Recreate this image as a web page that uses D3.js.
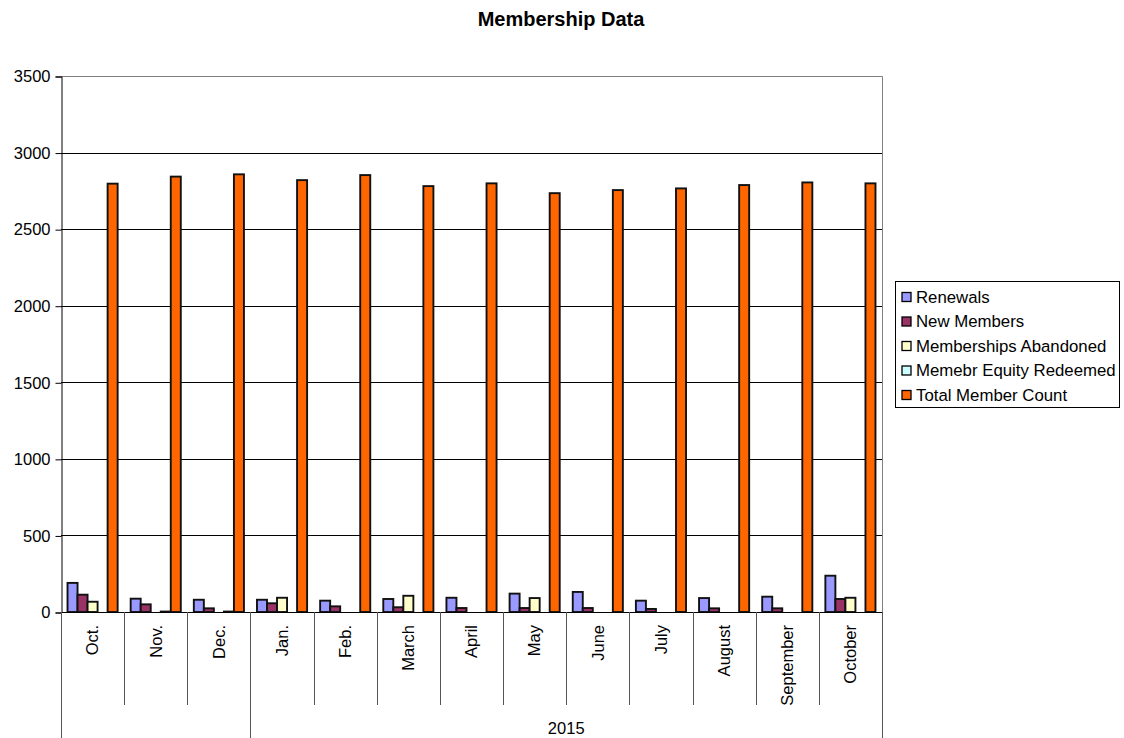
<!DOCTYPE html>
<html>
<head>
<meta charset="utf-8">
<script src="https://cdn.jsdelivr.net/npm/d3@7"></script>
<style>
  html, body { margin: 0; padding: 0; background: #fff; }
  svg { display: block; font-family: "Liberation Sans", Arial, sans-serif; }
</style>
</head>
<body>
<svg id="chart" width="1124" height="738"></svg>
<script>
// ---- data ----
const categories = ["Oct.", "Nov.", "Dec.", "Jan.", "Feb.", "March", "April", "May", "June", "July", "August", "September", "October"];
const groupLabels = ["", "2015"];
const groupSizes = [3, 10];
const seriesNames = ["Renewals", "New Members", "Memberships Abandoned", "Memebr Equity Redeemed", "Total Member Count"];
const renewals = [190, 87, 80, 80, 74, 85, 93, 120, 131, 74, 91, 100, 237];
const newMembers = [113, 50, 24, 57, 37, 31, 26, 26, 26, 20, 24, 24, 85];
const abandoned = [67, 0, 0, 93, 0, 106, 0, 91, 0, 0, 0, 0, 93];
const equityRedeemed = [0, 3, 3, 0, 0, 0, 0, 0, 0, 0, 0, 0, 0];
const totalCount = [2797, 2843, 2858, 2820, 2853, 2781, 2799, 2735, 2755, 2766, 2788, 2805, 2799];
const yTicks = [0, 500, 1000, 1500, 2000, 2500, 3000, 3500];
const colors = ["#9999FF", "#993366", "#FFFFCC", "#CCFFFF", "#FF6600"];

const seriesValues = [renewals, newMembers, abandoned, equityRedeemed, totalCount];

// ---- layout ----
const svg = d3.select("#chart");
const plot = { left: 61, right: 882, top: 76, bottom: 612 };

const x0 = d3.scaleBand().domain(categories).range([plot.left, plot.right]).padding(0);
const x1 = d3.scaleBand().domain(seriesNames).range([0, x0.bandwidth()]).paddingInner(0).paddingOuter(0.65);
const y = d3.scaleLinear().domain([0, 3500]).range([plot.bottom, plot.top]);

// title
svg.append("text")
  .attr("x", 561).attr("y", 26)
  .attr("text-anchor", "middle")
  .attr("font-size", 20).attr("font-weight", "bold")
  .text("Membership Data");

// gridlines
svg.append("g").selectAll("line")
  .data(yTicks.filter(d => d > 0 && d < 3500))
  .join("line")
  .attr("x1", plot.left).attr("x2", plot.right)
  .attr("y1", d => Math.round(y(d)) + 0.5).attr("y2", d => Math.round(y(d)) + 0.5)
  .attr("stroke", "#000").attr("stroke-width", 1);

// plot border (top/right)
svg.append("path")
  .attr("d", `M${plot.left},${y(3500) + 0.5}H${plot.right + 0.5}V${plot.bottom}`)
  .attr("fill", "none").attr("stroke", "#808080").attr("stroke-width", 1);

// bars
const rows = categories.map((c, i) => ({ cat: c, vals: seriesNames.map((s, k) => ({ s, k, v: seriesValues[k][i] })) }));
const gBars = svg.append("g");
gBars.selectAll("g")
  .data(rows)
  .join("g")
  .attr("transform", d => `translate(${x0(d.cat)},0)`)
  .selectAll("rect")
  .data(d => d.vals.filter(e => e.v > 0))
  .join("rect")
  .attr("x", e => x1(e.s))
  .attr("width", x1.bandwidth())
  .attr("y", e => y(e.v))
  .attr("height", e => y(0) - y(e.v))
  .attr("fill", e => colors[e.k])
  .attr("stroke", "#111")
  .attr("stroke-width", 1.9);

// y axis
const yAxis = d3.axisLeft(y).tickValues(yTicks).tickSize(6).tickPadding(5).tickFormat(d3.format("d"));
const gY = svg.append("g").attr("transform", `translate(${plot.left + 0.5},0.5)`).call(yAxis);
gY.select(".domain").attr("stroke", "#000");
gY.selectAll(".tick line").attr("stroke", "#000");
gY.selectAll("text").attr("font-size", 16.5).attr("font-family", "'Liberation Sans', Arial, sans-serif").attr("fill", "#000");

// x baseline
svg.append("line")
  .attr("x1", plot.left).attr("x2", plot.right)
  .attr("y1", plot.bottom + 0.5).attr("y2", plot.bottom + 0.5)
  .attr("stroke", "#000");

// category separators
const bounds = categories.map(c => x0(c)).concat([plot.right]);
let groupEdges = [0];
groupSizes.forEach(s => groupEdges.push(groupEdges[groupEdges.length - 1] + s));
svg.append("g").selectAll("line")
  .data(bounds.map((b, i) => ({ b, i })))
  .join("line")
  .attr("x1", d => Math.round(d.b) + 0.5).attr("x2", d => Math.round(d.b) + 0.5)
  .attr("y1", plot.bottom)
  .attr("y2", d => groupEdges.includes(d.i) ? 738 : 705)
  .attr("stroke", "#555").attr("stroke-width", 1);

// category labels
svg.append("g").selectAll("text")
  .data(categories)
  .join("text")
  .attr("transform", d => `translate(${x0(d) + x0.bandwidth() / 2},625) rotate(-90)`)
  .attr("dy", "0.35em")
  .attr("text-anchor", "end")
  .attr("font-size", 16.5)
  .text(d => d);

// group labels
svg.append("g").selectAll("text")
  .data(groupLabels.map((g, i) => ({ g, i })))
  .join("text")
  .attr("x", d => (bounds[groupEdges[d.i]] + bounds[groupEdges[d.i + 1]]) / 2)
  .attr("y", 734)
  .attr("text-anchor", "middle")
  .attr("font-size", 16.5)
  .text(d => d.g);

// legend
const lg = svg.append("g");
lg.append("rect")
  .attr("x", 895.5).attr("y", 281.5).attr("width", 224).attr("height", 126)
  .attr("fill", "#fff").attr("stroke", "#000");
const items = lg.selectAll("g.item")
  .data(seriesNames)
  .join("g").attr("class", "item")
  .attr("transform", (d, i) => `translate(0,${297 + i * 24.5})`);
items.append("rect")
  .attr("x", 902).attr("y", -4.5).attr("width", 9).attr("height", 9)
  .attr("fill", (d, i) => colors[i]).attr("stroke", "#000").attr("stroke-width", 1.3);
items.append("text")
  .attr("x", 916).attr("y", 5.5)
  .attr("font-size", 16.8)
  .text(d => d);
</script>
</body>
</html>
